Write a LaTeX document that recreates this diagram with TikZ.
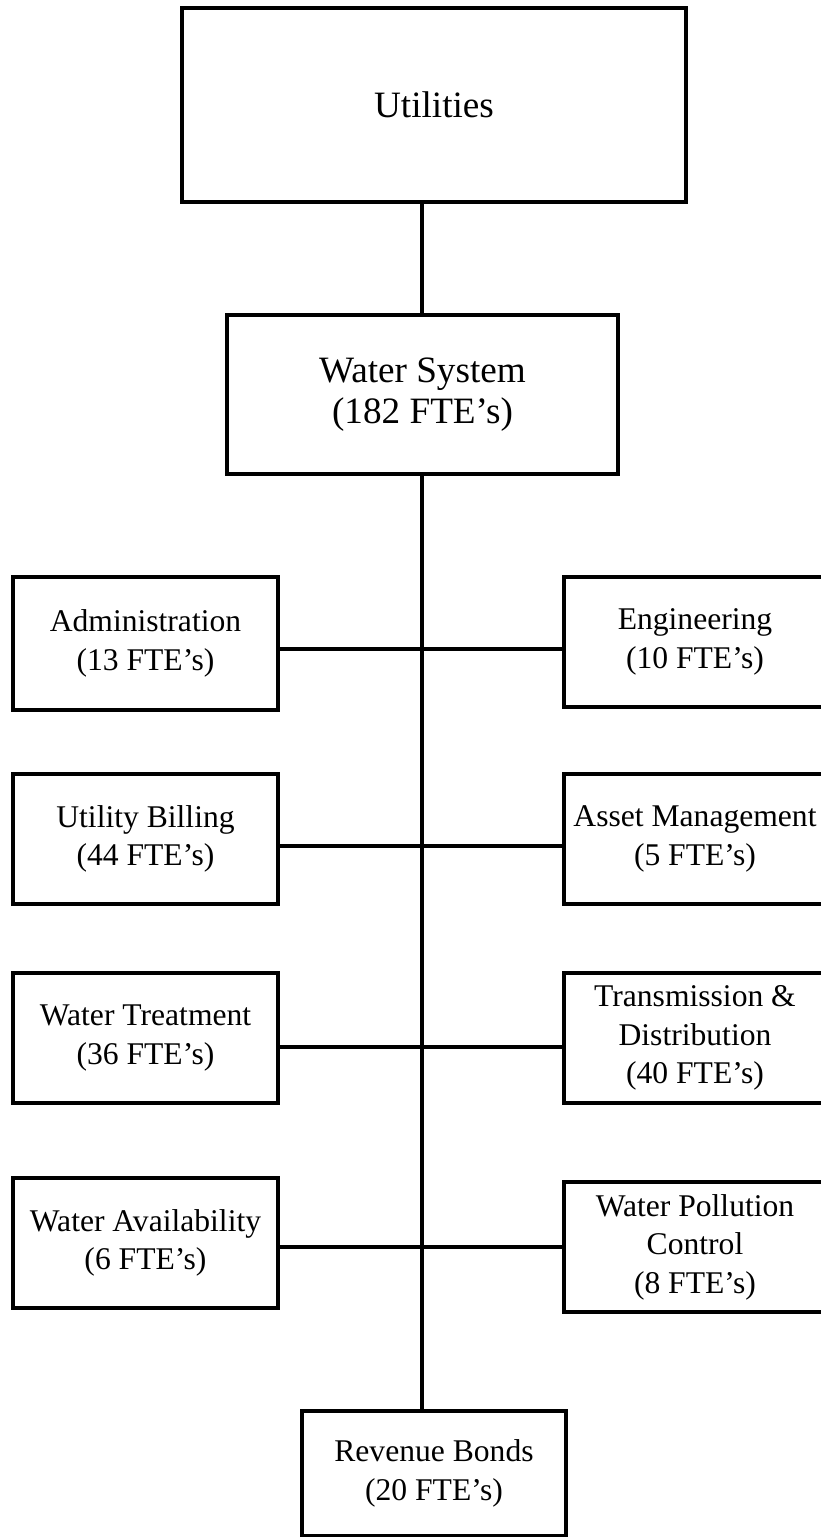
\documentclass[tikz,border=0pt]{standalone}
\usepackage{fontspec}
\setmainfont{Liberation Serif}
\begin{document}
\begin{tikzpicture}[x=0.5pt,y=-0.5pt,
  box/.style={draw=black,line width=1.6pt,rectangle,inner sep=0pt,outer sep=0pt,align=center,fill=white},
  big/.style={box,font=\fontsize{18.6}{20.5}\selectfont},
  small/.style={box,font=\fontsize{15.8}{19.3}\selectfont},
  leftbox/.style={small,minimum width=132.5pt,minimum height=65pt},
  rightbox/.style={small,minimum width=131pt,minimum height=65pt},
  link/.style={line width=1.6pt}]
\useasboundingbox (0,0) rectangle (820,1537);
\coordinate (sp) at (422,0);
\node[big,minimum width=252pt,minimum height=97pt] (util) at (434,105) {Utilities};
\node[big,minimum width=195.5pt,minimum height=79.5pt] (ws) at (422.5,394.5) {Water System\\(182 FTE’s)};
\node[leftbox,minimum height=66.5pt] (admin) at (145.5,643.5) {Administration\\(13 FTE’s)};
\node[rightbox] (eng) at (695,642) {Engineering\\(10 FTE’s)};
\node[leftbox] (bill) at (145.5,839) {Utility Billing\\(44 FTE’s)};
\node[rightbox] (asset) at (695,839) {Asset Management\\(5 FTE’s)};
\node[leftbox] (treat) at (145.5,1038) {Water Treatment\\(36 FTE’s)};
\node[rightbox] (trans) at (695,1038) {Transmission \&\\Distribution\\(40 FTE’s)};
\node[leftbox] (avail) at (145.5,1243) {Water Availability\\(6 FTE’s)};
\node[rightbox] (poll) at (695,1247) {Water Pollution\\Control\\(8 FTE’s)};
\node[small,minimum width=132pt,minimum height=62.5pt] (rev) at (434,1473.5) {Revenue Bonds\\(20 FTE’s)};
\draw[link] (util.south -| sp) -- (ws.north -| sp);
\draw[link] (ws.south -| sp) -- (rev.north -| sp);
\draw[link] (admin.east |- 0,649) -- (eng.west |- 0,649);
\draw[link] (bill.east |- 0,846) -- (asset.west |- 0,846);
\draw[link] (treat.east |- 0,1047) -- (trans.west |- 0,1047);
\draw[link] (avail.east |- 0,1247) -- (poll.west |- 0,1247);
\end{tikzpicture}
\end{document}
